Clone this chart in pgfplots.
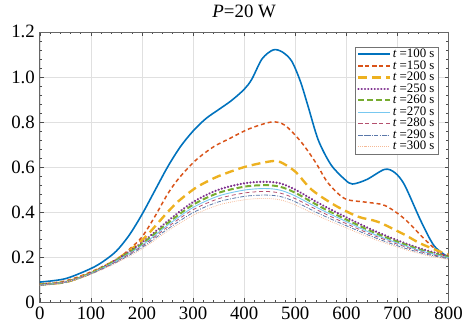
\documentclass[border=0pt]{standalone}
\usepackage{pgfplots}
\pgfplotsset{compat=1.18}
\usepackage{fontspec}
\setmainfont{Liberation Serif}
\definecolor{c1}{RGB}{0,114,189}
\definecolor{c2}{RGB}{217,83,25}
\definecolor{c3}{RGB}{237,177,32}
\definecolor{c4}{RGB}{126,47,142}
\definecolor{c5}{RGB}{119,172,48}
\definecolor{c6}{RGB}{120,200,240}
\definecolor{c7}{RGB}{180,80,110}
\definecolor{c8}{RGB}{90,120,170}
\definecolor{c9}{RGB}{245,185,150}
\begin{document}
\begin{tikzpicture}
\begin{axis}[
  name=ax,
  scale only axis, width=411bp, height=272bp,
  xmin=0, xmax=800, ymin=0, ymax=1.2,
  xtick={0,100,...,800},
  xticklabels={0,100,200,300,400,500,600,700,800},
  ytick={0,0.2,0.4,0.6,0.8,1.0,1.2},
  yticklabels={0,0.2,0.4,0.6,0.8,1.0,1.2},
  minor x tick num=4, minor y tick num=4,
  tick align=inside,
  major tick length=4bp, minor tick length=2.5bp,
  tick style={black!70, line width=0.4pt},
  axis line style={black!60, line width=0.6pt},
  grid=major, major grid style={black!12, line width=0.5pt},
  ticklabel style={font=\fontsize{19}{19}\selectfont},
  yticklabel style={xshift=-1.5bp},
  xticklabel style={yshift=-1.5bp},
  title={\itshape P\upshape=20 W},
  title style={font=\fontsize{19}{19}\selectfont, yshift=5bp},
  legend style={at={(0.976,0.945)}, anchor=north east, draw=black!55, line width=0.6pt,
    font=\fontsize{13}{13}\selectfont, row sep=0pt, inner xsep=2bp, inner ysep=1.5bp,
    nodes={inner xsep=2bp, inner ysep=0.3bp, text height=8.8bp, text depth=2.2bp},
    cells={anchor=west}},
  legend image post style={xscale=1.85},
  every axis plot/.append style={smooth, tension=0.5},
]
\addplot[c1, line width=1.6pt] coordinates {
(0,0.09)(50,0.105)(100,0.15)(125,0.183)(150,0.228)(175,0.298)(200,0.39)(225,0.495)(250,0.60)(275,0.69)(300,0.76)(325,0.815)(350,0.855)(375,0.895)(400,0.945)(415,0.99)(435,1.08)(457,1.12)(475,1.11)(493,1.07)(510,0.98)(525,0.87)(545,0.72)(570,0.61)(597,0.545)(612,0.525)(640,0.545)(675,0.59)(695,0.575)(714,0.52)(746,0.36)(772,0.25)(800,0.20)};
\addlegendentry{{\itshape t} =100 s}
\addplot[c2, line width=1.5pt, dash pattern=on 4pt off 3pt] coordinates {
(0,0.08)(50,0.095)(100,0.135)(150,0.19)(175,0.235)(200,0.29)(225,0.38)(250,0.48)(272,0.55)(305,0.63)(340,0.69)(370,0.725)(410,0.77)(454,0.80)(480,0.785)(512,0.71)(540,0.62)(564,0.53)(597,0.46)(636,0.445)(675,0.43)(714,0.37)(753,0.28)(785,0.215)(800,0.205)};
\addlegendentry{{\itshape t} =150 s}
\addplot[c3, line width=2.4pt, dash pattern=on 9pt off 5pt] coordinates {
(0,0.08)(50,0.09)(100,0.13)(150,0.19)(200,0.275)(250,0.40)(272,0.45)(300,0.50)(318,0.525)(350,0.56)(400,0.60)(450,0.625)(470,0.623)(500,0.58)(532,0.50)(578,0.43)(623,0.38)(662,0.357)(714,0.30)(746,0.26)(800,0.21)};
\addlegendentry{{\itshape t} =200 s}
\addplot[c4, line width=2.4pt, dash pattern=on 0.1pt off 3.2pt, line cap=round] coordinates {
(0,0.08)(50,0.09)(100,0.13)(150,0.19)(200,0.265)(250,0.36)(300,0.445)(350,0.50)(400,0.528)(440,0.535)(470,0.528)(500,0.50)(550,0.435)(600,0.377)(650,0.322)(700,0.275)(750,0.235)(800,0.205)};
\addlegendentry{{\itshape t} =250 s}
\addplot[c5, line width=2pt, dash pattern=on 6pt off 3pt] coordinates {
(0,0.078)(50,0.09)(100,0.129)(150,0.187)(200,0.259)(250,0.351)(300,0.433)(350,0.486)(400,0.513)(440,0.52)(470,0.513)(500,0.486)(550,0.423)(600,0.367)(650,0.314)(700,0.269)(750,0.230)(800,0.201)};
\addlegendentry{{\itshape t} =260 s}
\addplot[c6, line width=0.9pt] coordinates {
(0,0.077)(50,0.09)(100,0.128)(150,0.184)(200,0.253)(250,0.342)(300,0.421)(350,0.472)(400,0.498)(440,0.505)(470,0.498)(500,0.472)(550,0.412)(600,0.358)(650,0.306)(700,0.263)(750,0.226)(800,0.198)};
\addlegendentry{{\itshape t} =270 s}
\addplot[c7, line width=0.8pt, dash pattern=on 4pt off 3pt] coordinates {
(0,0.076)(50,0.09)(100,0.127)(150,0.181)(200,0.249)(250,0.334)(300,0.411)(350,0.46)(400,0.485)(440,0.492)(470,0.485)(500,0.46)(550,0.402)(600,0.349)(650,0.30)(700,0.258)(750,0.222)(800,0.195)};
\addlegendentry{{\itshape t} =280 s}
\addplot[c8, line width=0.8pt, dash pattern=on 4pt off 1.5pt on 1pt off 1.5pt] coordinates {
(0,0.075)(50,0.09)(100,0.126)(150,0.178)(200,0.243)(250,0.325)(300,0.398)(350,0.446)(400,0.47)(440,0.476)(470,0.47)(500,0.446)(550,0.39)(600,0.34)(650,0.292)(700,0.251)(750,0.217)(800,0.193)};
\addlegendentry{{\itshape t} =290 s}
\addplot[c9, line width=0.8pt, dash pattern=on 0.8pt off 1.2pt] coordinates {
(0,0.075)(50,0.09)(100,0.125)(150,0.175)(200,0.237)(250,0.316)(300,0.386)(350,0.432)(400,0.455)(440,0.461)(470,0.455)(500,0.432)(550,0.378)(600,0.33)(650,0.284)(700,0.245)(750,0.212)(800,0.19)};
\addlegendentry{{\itshape t} =300 s}
\end{axis}
\path[use as bounding box] ([xshift=-40bp,yshift=-25bp]ax.south west) rectangle ([xshift=15bp,yshift=32bp]ax.north east);
\end{tikzpicture}
\end{document}
